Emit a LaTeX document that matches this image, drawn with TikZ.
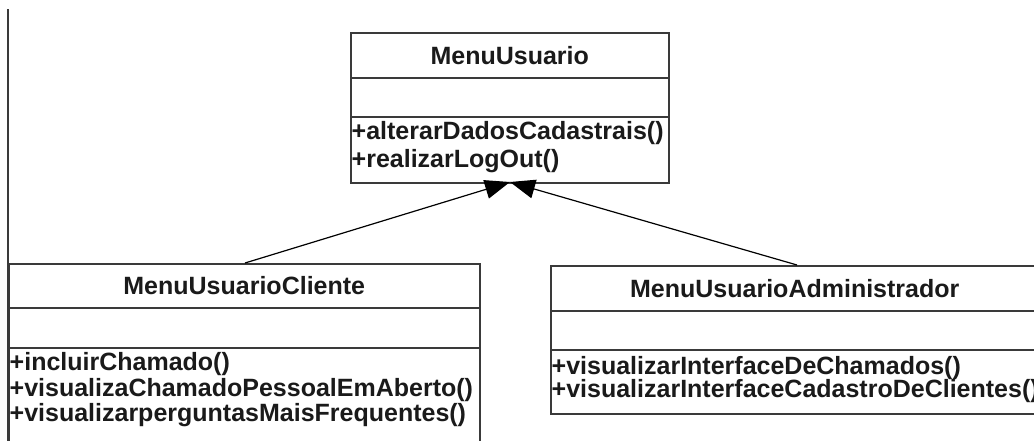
\documentclass[tikz,border=0pt]{standalone}
\usepackage{fontspec}
\setmainfont{Liberation Sans}
\usetikzlibrary{arrows.meta}
\definecolor{linec}{HTML}{3A3A3A}
\definecolor{textc}{HTML}{1A1A1A}
\tikzset{
  umlfont/.style={font=\bfseries\fontsize{25}{28}\selectfont, text=textc},
  part/.style={draw=linec, line width=1.5pt, fill=white, inner sep=0pt, anchor=north west, umlfont},
  meth/.style={anchor=west, inner sep=0pt, umlfont},
  gen/.style={draw=black, line width=1.2pt, -{Triangle[length=25pt,width=19pt]}},
}
\begin{document}
\begin{tikzpicture}[x=1pt, y=-1pt]
\useasboundingbox (0,0) rectangle (1034,440);
\clip (0,0) rectangle (1034,440);
\fill[white] (0,0) rectangle (1034,440);
% left vertical line
\draw[linec, line width=1.5pt] (8,9) -- (8,445);
% MenuUsuario
\node[part, minimum width=318pt, minimum height=45pt] (mu) at (350,32) {MenuUsuario};
\node[part, minimum width=318pt, minimum height=39pt] (mua) at (350,77) {};
\node[part, minimum width=318pt, minimum height=66pt] (mum) at (350,116) {};
\node[meth] (mum1) at (351.5,133) {+alterarDadosCadastrais()};
\node[meth] (mum2) at (351.5,161) {+realizarLogOut()};
% MenuUsuarioCliente
\node[part, minimum width=471pt, minimum height=44pt] (muc) at (8,263) {MenuUsuarioCliente};
\node[part, minimum width=471pt, minimum height=40pt] (muca) at (8,307) {};
\node[part, minimum width=471pt, minimum height=110pt] (mucm) at (8,347) {};
\node[meth] (mucm1) at (9.5,364.5) {+incluirChamado()};
\node[meth] (mucm2) at (9.5,390) {+visualizaChamadoPessoalEmAberto()};
\node[meth] (mucm3) at (9.5,415.5) {+visualizarperguntasMaisFrequentes()};
% MenuUsuarioAdministrador
\node[part, minimum width=488pt, minimum height=45pt] (mad) at (550,265) {MenuUsuarioAdministrador};
\node[part, minimum width=488pt, minimum height=39pt] (mada) at (550,310) {};
\node[part, minimum width=488pt, minimum height=64pt] (madm) at (550,349) {};
\node[meth] (madm1) at (551.5,368) {+visualizarInterfaceDeChamados()};
\node[meth] (madm2) at (551.5,391.5) {+visualizarInterfaceCadastroDeClientes()};
% generalisations
\coordinate (tip) at (510,182);
\coordinate (startL) at (245,263);
\coordinate (startR) at (797,265);
\draw[gen] (startL) -- (tip);
\draw[gen] (startR) -- (tip);
\end{tikzpicture}
\end{document}
